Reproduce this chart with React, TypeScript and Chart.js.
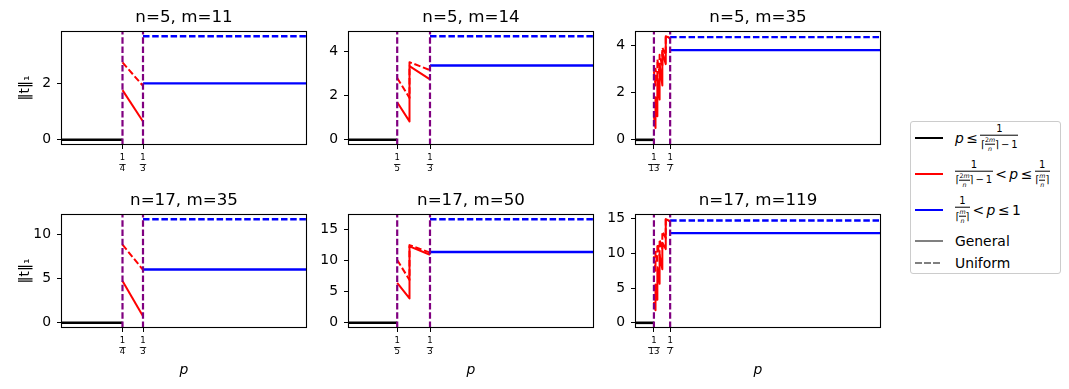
import React, { useEffect, useRef } from "react";
import { Chart, registerables } from "chart.js";

Chart.register(...registerables);

const FONT = "'DejaVu Sans', sans-serif";

// ---------- data ----------
const panelTitles = ["n=5, m=11", "n=5, m=14", "n=5, m=35", "n=17, m=35", "n=17, m=50", "n=17, m=119"];
const pRange = [0, 1];
const lowBreaks = [1 / 4, 1 / 5, 1 / 13, 1 / 4, 1 / 5, 1 / 13];
const highBreaks = [1 / 3, 1 / 3, 1 / 7, 1 / 3, 1 / 3, 1 / 7];
const xTickLabels = [
  ["1/4", "1/3"],
  ["1/5", "1/3"],
  ["1/13", "1/7"],
  ["1/4", "1/3"],
  ["1/5", "1/3"],
  ["1/13", "1/7"],
];
const yTicks = [
  [0, 2],
  [0, 2, 4],
  [0, 2, 4],
  [0, 5, 10],
  [0, 5, 10, 15],
  [0, 5, 10, 15],
];

// red segment (middle regime) p values
const redP_a = [1 / 4, 1 / 3];
const redP_b = [1 / 5, 1 / 4, 1 / 4, 1 / 3];
const redP_c = [1 / 13, 1 / 12, 1 / 12, 1 / 11, 1 / 11, 1 / 10, 1 / 10, 1 / 9, 1 / 9, 1 / 8, 1 / 8, 1 / 7];

// General (solid) red values
const redGen_5_11 = [1.76, 0.65];
const redGen_5_14 = [1.69, 0.83, 3.32, 2.72];
const redGen_5_35 = [1.0, 0.5, 1.8, 1.0, 2.6, 1.7, 3.2, 2.3, 3.7, 3.2, 4.38, 4.3];
const redGen_17_35 = [4.7, 0.75];
const redGen_17_50 = [6.43, 3.92, 12.3, 10.95];
const redGen_17_119 = [3.0, 1.8, 5.5, 3.3, 8.0, 5.6, 9.8, 7.7, 11.5, 10.6, 14.9, 14.6];

// Uniform (dashed) red values
const redUni_5_11 = [2.74, 1.91];
const redUni_5_14 = [2.79, 1.89, 3.5, 3.14];
const redUni_5_35 = [2.9, 2.3, 3.0, 2.5, 3.4, 2.8, 3.6, 3.1, 3.9, 3.6, 4.38, 4.3];
const redUni_17_35 = [8.8, 5.97];
const redUni_17_50 = [10.1, 6.9, 12.5, 11.3];
const redUni_17_119 = [9.6, 7.5, 10.2, 8.6, 11.3, 9.7, 12.0, 10.6, 13.1, 12.2, 14.9, 14.6];

// blue (upper regime) levels
const blueGen = [2.0, 3.35, 3.79, 6.0, 11.4, 12.9];
const blueUni = [3.67, 4.67, 4.34, 11.67, 16.67, 14.7];

const redPs = [redP_a, redP_b, redP_c, redP_a, redP_b, redP_c];
const redGens = [redGen_5_11, redGen_5_14, redGen_5_35, redGen_17_35, redGen_17_50, redGen_17_119];
const redUnis = [redUni_5_11, redUni_5_14, redUni_5_35, redUni_17_35, redUni_17_50, redUni_17_119];

// ---------- layout ----------
const AX_LEFT = [61, 348, 635];
const AX_TOP = [31, 214];
const AX_W = 246;
const AX_H = 114;
const YW = 61;
const TH = 32;
const XH = [30, 52];
const RP = 4;
const DASH = [6.5, 2.7];
const TICK_LEN = 4;
const XT_PAD = 3.5;
const XT_LH = 11;
const XT_SIZE = 8.5;

const framePlugin = {
  id: "frame",
  afterDatasetsDraw(chart: any) {
    const { ctx, chartArea: a } = chart;
    ctx.save();
    ctx.strokeStyle = "#000";
    ctx.lineWidth = 1.1;
    ctx.strokeRect(a.left + 0.5, a.top + 0.5, a.right - a.left - 1, a.bottom - a.top - 1);
    ctx.restore();
  },
};

function Panel({ idx }: { idx: number }) {
  const ref = useRef<HTMLCanvasElement>(null);
  const row = Math.floor(idx / 3);
  const col = idx % 3;
  const width = YW + AX_W + RP;
  const height = TH + AX_H + XH[row];

  useEffect(() => {
    const low = lowBreaks[idx];
    const high = highBreaks[idx];
    const px = redPs[idx];
    const gen = redGens[idx];
    const uni = redUnis[idx];
    const all = [0, ...gen, ...uni, blueGen[idx], blueUni[idx]];
    const dMax = Math.max(...all);
    const dMin = Math.min(...all);
    const m = 0.05 * (dMax - dMin);
    const yMin = dMin - m;
    const yMax = dMax + m;
    const pts = (xs: number[], ys: number[]) => xs.map((x, i) => ({ x, y: ys[i] }));
    const labels = xTickLabels[idx];

    const fracBar = {
      id: "fracBar",
      afterDraw(chart: any) {
        const xs = chart.scales.x;
        const ctx = chart.ctx;
        const y = Math.round(xs.top + TICK_LEN + XT_PAD + XT_LH) + 0.5;
        ctx.save();
        ctx.font = `${XT_SIZE}px ${FONT}`;
        ctx.strokeStyle = "#000";
        ctx.lineWidth = 0.8;
        xs.ticks.forEach((t: any, i: number) => {
          const x = xs.getPixelForValue(t.value);
          const [n, d] = labels[i].split("/");
          const w = Math.max(ctx.measureText(n).width, ctx.measureText(d).width) + 1;
          ctx.beginPath();
          ctx.moveTo(x - w / 2, y);
          ctx.lineTo(x + w / 2, y);
          ctx.stroke();
        });
        ctx.restore();
      },
    };

    const line = (data: any[], color: string, w: number, dashed: boolean, order: number) => ({
      data,
      borderColor: color,
      borderWidth: w,
      borderDash: dashed ? DASH : [],
      pointRadius: 0,
      tension: 0,
      fill: false,
      borderJoinStyle: "round",
      order,
    });

    const chart = new Chart(ref.current as HTMLCanvasElement, {
      type: "line",
      data: {
        datasets: [
          line([{ x: pRange[0], y: 0 }, { x: low, y: 0 }], "#000", 2.6, false, 5),
          line(pts(px, gen), "red", 2, false, 4),
          line(pts(px, uni), "red", 2, true, 4),
          line([{ x: high, y: blueGen[idx] }, { x: pRange[1], y: blueGen[idx] }], "blue", 2.4, false, 3),
          line([{ x: high, y: blueUni[idx] }, { x: pRange[1], y: blueUni[idx] }], "blue", 2.4, true, 3),
          line([{ x: low, y: yMin }, { x: low, y: yMax }], "purple", 2.2, true, 0),
          line([{ x: high, y: yMin }, { x: high, y: yMax }], "purple", 2.2, true, 0),
        ] as any,
      },
      options: {
        animation: false,
        responsive: false,
        events: [],
        layout: { padding: { left: 0, right: RP, top: 0, bottom: 0 } },
        plugins: {
          legend: { display: false },
          tooltip: { enabled: false },
          title: {
            display: true,
            fullSize: false,
            text: panelTitles[idx],
            color: "#000",
            font: { family: FONT, size: 16.7, weight: "normal", lineHeight: "20px" } as any,
            padding: { top: 9, bottom: 3 },
          },
        },
        scales: {
          x: {
            type: "linear",
            min: pRange[0],
            max: pRange[1],
            afterBuildTicks: (ax: any) => {
              ax.ticks = [low, high].map((v) => ({ value: v }));
            },
            afterFit: (s: any) => {
              s.height = XH[row];
            },
            grid: { drawOnChartArea: false, drawTicks: true, tickLength: TICK_LEN, color: "#000", lineWidth: 1 },
            border: { display: false },
            ticks: {
              autoSkip: false,
              maxRotation: 0,
              minRotation: 0,
              padding: XT_PAD,
              color: "#000",
              font: { family: FONT, size: XT_SIZE, lineHeight: `${XT_LH}px` } as any,
              callback: (_v: any, i: number) => labels[i].split("/"),
            },
            title: {
              display: row === 1,
              text: "p",
              color: "#000",
              font: { family: FONT, size: 13.9, style: "italic", lineHeight: 1.2 } as any,
              padding: { top: 0, bottom: 1 },
            },
          },
          y: {
            type: "linear",
            min: yMin,
            max: yMax,
            afterBuildTicks: (ax: any) => {
              ax.ticks = yTicks[idx].map((v) => ({ value: v }));
            },
            afterFit: (s: any) => {
              s.width = YW;
            },
            grid: { drawOnChartArea: false, drawTicks: true, tickLength: TICK_LEN, color: "#000", lineWidth: 1 },
            border: { display: false },
            ticks: {
              padding: 6,
              color: "#000",
              font: { family: FONT, size: 13.9 },
              callback: (v: any) => String(v),
            },
            title: {
              display: col === 0,
              text: "‖t‖₁",
              color: "#000",
              font: { family: FONT, size: 13.9, lineHeight: 1.2 } as any,
              padding: { top: 17.2, bottom: 0 },
            },
          },
        },
      } as any,
      plugins: [framePlugin, fracBar],
    });
    return () => chart.destroy();
  }, [idx, row, col]);

  return (
    <canvas
      ref={ref}
      width={width}
      height={height}
      style={{
        position: "absolute",
        left: AX_LEFT[col] - YW,
        top: AX_TOP[row] - TH,
        width,
        height,
      }}
    />
  );
}

// ---------- legend ----------
const I = ({ children }: { children: any }) => <span style={{ fontStyle: "italic" }}>{children}</span>;

function Frac({ num, den, size }: { num: any; den: any; size: number }) {
  return (
    <span
      style={{
        display: "inline-flex",
        flexDirection: "column",
        alignItems: "center",
        verticalAlign: "middle",
        fontSize: size,
        lineHeight: 1,
      }}
    >
      <span style={{ padding: "0 0 1px" }}>{num}</span>
      <span style={{ borderTop: "0.8px solid #000", alignSelf: "stretch", textAlign: "center", padding: "1px 0.5px 0" }}>
        {den}
      </span>
    </span>
  );
}

const ceilFrac = (top: any) => (
  <span style={{ display: "inline-flex", alignItems: "center", fontSize: 10 }}>
    ⌈<Frac size={6.3} num={top} den={<I>n</I>} />⌉
  </span>
);

const den2m = (
  <span style={{ display: "inline-flex", alignItems: "center" }}>
    {ceilFrac(
      <>
        2<I>m</I>
      </>
    )}
    <span style={{ fontSize: 10, marginLeft: 2 }}>−&thinsp;1</span>
  </span>
);
const denM = ceilFrac(<I>m</I>);

const rel = (s: string) => <span style={{ margin: "0 2.5px" }}>{s}</span>;

const legendRows = [
  {
    y: 138,
    color: "#000",
    dashed: false,
    content: (
      <>
        <I>p</I>
        {rel("≤")}
        <Frac size={10} num="1" den={den2m} />
      </>
    ),
  },
  {
    y: 173.5,
    color: "red",
    dashed: false,
    content: (
      <>
        <Frac size={10} num="1" den={den2m} />
        {rel("<")}
        <I>p</I>
        {rel("≤")}
        <Frac size={10} num="1" den={denM} />
      </>
    ),
  },
  {
    y: 210,
    color: "blue",
    dashed: false,
    content: (
      <>
        <Frac size={10} num="1" den={denM} />
        {rel("<")}
        <I>p</I>
        {rel("≤")}
        <span>1</span>
      </>
    ),
  },
  { y: 240.5, color: "#808080", dashed: false, content: <span>General</span> },
  { y: 263, color: "#808080", dashed: true, content: <span>Uniform</span> },
];

function Legend() {
  return (
    <>
      <div
        style={{
          position: "absolute",
          left: 910,
          top: 121,
          width: 151,
          height: 153,
          border: "1px solid #cccccc",
          borderRadius: 3,
          background: "rgba(255,255,255,0.8)",
          boxSizing: "border-box",
        }}
      />
      {legendRows.map((r, i) => (
        <React.Fragment key={i}>
          <div
            style={{
              position: "absolute",
              left: 915,
              top: r.y - 1,
              width: 28,
              height: 2,
              background: r.dashed
                ? `repeating-linear-gradient(to right, ${r.color} 0px, ${r.color} 6.5px, transparent 6.5px, transparent 9.2px)`
                : r.color,
            }}
          />
          <div
            style={{
              position: "absolute",
              left: 955,
              top: r.y,
              transform: "translateY(-50%)",
              display: "flex",
              alignItems: "center",
              whiteSpace: "nowrap",
              fontFamily: FONT,
              fontSize: 13.9,
              lineHeight: 1.15,
              color: "#000",
            }}
          >
            {r.content}
          </div>
        </React.Fragment>
      ))}
    </>
  );
}

export default function App() {
  return (
    <div
      style={{
        position: "absolute",
        left: 0,
        top: 0,
        width: 1069,
        height: 389,
        background: "#fff",
        overflow: "hidden",
        fontFamily: FONT,
      }}
    >
      {[0, 1, 2, 3, 4, 5].map((i) => (
        <Panel key={i} idx={i} />
      ))}
      <Legend />
    </div>
  );
}
